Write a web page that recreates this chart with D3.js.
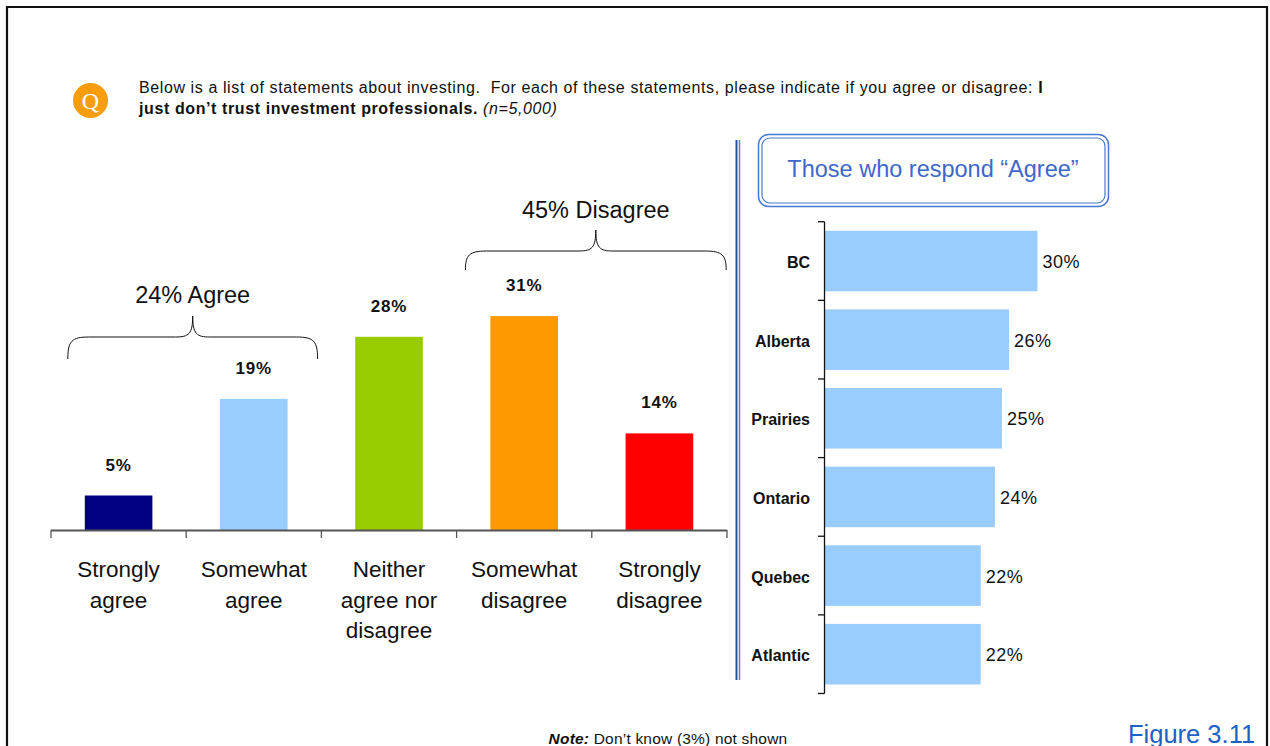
<!DOCTYPE html>
<html><head><meta charset="utf-8">
<script src="https://cdn.jsdelivr.net/npm/d3@7"></script>
<style>
html,body{margin:0;padding:0;background:#fff;}
svg{display:block;font-family:"Liberation Sans",Arial,Helvetica,sans-serif;}
</style></head>
<body><svg id="c" width="1270" height="746"></svg>
<script>
// ---- data ----
const responseCategories = [["Strongly","agree"],["Somewhat","agree"],["Neither","agree nor","disagree"],["Somewhat","disagree"],["Strongly","disagree"]];
const responseKeys = ["Strongly agree","Somewhat agree","Neither agree nor disagree","Somewhat disagree","Strongly disagree"];
const responseValues = [5, 19, 28, 31, 14];
const responseColors = ["#000080","#99ccff","#99cc00","#ff9900","#ff0000"];
const regions = ["BC","Alberta","Prairies","Ontario","Quebec","Atlantic"];
const regionAgree = [30, 26, 25, 24, 22, 22];
const groupLabels = ["24% Agree","45% Disagree"];

const svg = d3.select("#c");

// frame
svg.append("path").attr("d","M7,746 L7,7 L1267,7 L1267,746").attr("fill","none").attr("stroke","#111").attr("stroke-width",2.2);

// question icon
svg.append("circle").attr("cx",90.5).attr("cy",100.5).attr("r",17.5).attr("fill","#f99c0e");
svg.append("text").attr("x",90.5).attr("y",109).attr("text-anchor","middle").attr("fill","#fff")
  .attr("font-family","'Liberation Serif','DejaVu Serif',serif").attr("font-size",24).text("Q");

const q1 = svg.append("text").attr("x",139).attr("y",93).attr("font-size",16).attr("letter-spacing",0.6).attr("fill","#111");
q1.append("tspan").text("Below is a list of statements about investing.\u00a0 For each of these statements, please indicate if you agree or disagree: ");
q1.append("tspan").attr("font-weight","bold").text("I");
const q2 = svg.append("text").attr("x",139).attr("y",114).attr("font-size",16).attr("letter-spacing",0.6).attr("fill","#111");
q2.append("tspan").attr("font-weight","bold").text("just don\u2019t trust investment professionals.");
q2.append("tspan").attr("font-style","italic").text(" (n=5,000)");

// ---- left chart ----
const x = d3.scaleBand().domain(responseKeys).range([51,727]).paddingInner(0.5).paddingOuter(0.25);
const y = d3.scaleLinear().domain([0,40]).range([530,254]);

svg.append("g").selectAll("rect").data(responseValues).join("rect")
  .attr("x",(d,i)=>x(responseKeys[i])).attr("width",x.bandwidth())
  .attr("y",d=>y(d)).attr("height",d=>y(0)-y(d))
  .attr("fill",(d,i)=>responseColors[i]);

svg.append("g").selectAll("text").data(responseValues).join("text")
  .attr("x",(d,i)=>x(responseKeys[i])+x.bandwidth()/2).attr("y",d=>y(d)-25)
  .attr("text-anchor","middle").attr("font-weight","bold").attr("font-size",17).attr("letter-spacing",0.8).attr("fill","#111")
  .text(d=>d+"%");

// axis with ticks at band boundaries
const ax = svg.append("g").attr("stroke","#555");
const x0 = x.range()[0], step = x.step();
ax.append("line").attr("x1",x0).attr("x2",x0+step*responseKeys.length).attr("y1",530.5).attr("y2",530.5).attr("stroke-width",2);
ax.selectAll("line.t").data(d3.range(responseKeys.length+1)).join("line").attr("class","t")
  .attr("x1",i=>x0+i*step).attr("x2",i=>x0+i*step).attr("y1",530).attr("y2",538).attr("stroke-width",1.3);

const cl = svg.append("g").selectAll("text").data(responseCategories).join("text")
  .attr("text-anchor","middle").attr("font-size",22.5).attr("fill","#111")
  .attr("transform",(d,i)=>`translate(${x(responseKeys[i])+x.bandwidth()/2},577)`);
cl.selectAll("tspan").data(d=>d).join("tspan").attr("x",0).attr("dy",(d,i)=>i===0?0:30.5).text(d=>d);

// braces
function brace(xa, xb, yTip, yEnd){
  const xm=(xa+xb)/2, yh=yTip+21, r=17;
  return `M${xa},${yEnd} C${xa},${yh+4} ${xa+4},${yh} ${xa+r+4},${yh} L${xm-r},${yh} C${xm-4},${yh} ${xm},${yh-3} ${xm},${yTip}`+
         ` C${xm},${yh-3} ${xm+4},${yh} ${xm+r},${yh} L${xb-r-4},${yh} C${xb-4},${yh} ${xb},${yh+4} ${xb},${yEnd}`;
}
const agreeL = x(responseKeys[0])-17, agreeR = x(responseKeys[1])+x.bandwidth()+30;
const disL = x(responseKeys[3])-25, disR = x(responseKeys[4])+x.bandwidth()+33;
svg.append("path").attr("d",brace(agreeL,agreeR,316,359)).attr("fill","none").attr("stroke","#111").attr("stroke-width",1);
svg.append("path").attr("d",brace(disL,disR,230,270)).attr("fill","none").attr("stroke","#111").attr("stroke-width",1);
svg.append("text").attr("x",(agreeL+agreeR)/2).attr("y",303).attr("text-anchor","middle").attr("font-size",23.5).attr("fill","#111").text(groupLabels[0]);
svg.append("text").attr("x",(disL+disR)/2).attr("y",218).attr("text-anchor","middle").attr("font-size",23.5).attr("fill","#111").text(groupLabels[1]);

// separator double line
svg.append("line").attr("x1",736.5).attr("x2",736.5).attr("y1",140).attr("y2",680).attr("stroke","#2a4f9e").attr("stroke-width",2);
svg.append("line").attr("x1",739.5).attr("x2",739.5).attr("y1",140).attr("y2",680).attr("stroke","#4f7fd6").attr("stroke-width",1.5);

// title box
svg.append("rect").attr("x",758.5).attr("y",134.5).attr("width",350).attr("height",72).attr("rx",10).attr("fill","none").attr("stroke","#4a78d2").attr("stroke-width",1.5);
svg.append("rect").attr("x",762).attr("y",138).attr("width",343).attr("height",65).attr("rx",8).attr("fill","none").attr("stroke","#4a78d2").attr("stroke-width",1.2);
svg.append("text").attr("x",933).attr("y",177).attr("text-anchor","middle").attr("font-size",23.5).attr("fill","#3d68c8").text("Those who respond \u201cAgree\u201d");

// ---- right chart ----
const yr = d3.scaleBand().domain(regions).range([221.7,693.5]).paddingInner(0.23).paddingOuter(0.115);
const xr = d3.scaleLinear().domain([0,35]).range([825,825+35*7.08]);

svg.append("g").selectAll("rect").data(regionAgree).join("rect")
  .attr("x",xr(0)).attr("width",d=>xr(d)-xr(0))
  .attr("y",(d,i)=>yr(regions[i])).attr("height",yr.bandwidth())
  .attr("fill","#99ccff");

svg.append("g").selectAll("text").data(regionAgree).join("text")
  .attr("x",d=>xr(d)+5).attr("y",(d,i)=>yr(regions[i])+yr.bandwidth()/2+7)
  .attr("font-size",18).attr("letter-spacing",0.5).attr("fill","#111").text(d=>d+"%");

svg.append("g").selectAll("text").data(regions).join("text")
  .attr("x",810).attr("y",d=>yr(d)+yr.bandwidth()/2+7)
  .attr("text-anchor","end").attr("font-weight","bold").attr("font-size",16).attr("fill","#111").text(d=>d);

const ry0 = yr.range()[0], rstep = yr.step();
svg.append("line").attr("x1",824.5).attr("x2",824.5).attr("y1",ry0).attr("y2",ry0+rstep*regions.length).attr("stroke","#111").attr("stroke-width",1.3);
svg.append("g").selectAll("line").data(d3.range(regions.length+1)).join("line")
  .attr("x1",818).attr("x2",824.5).attr("y1",i=>ry0+i*rstep).attr("y2",i=>ry0+i*rstep).attr("stroke","#111").attr("stroke-width",1.3);

// footer
const note = svg.append("text").attr("x",668).attr("y",744).attr("text-anchor","middle").attr("font-size",15.5).attr("letter-spacing",0.2).attr("fill","#111");
note.append("tspan").attr("font-weight","bold").attr("font-style","italic").text("Note:");
note.append("tspan").text(" Don\u2019t know (3%) not shown");
svg.append("text").attr("x",1128).attr("y",743).attr("font-size",25.5).attr("fill","#1c62c4").text("Figure 3.11");
</script></body></html>
